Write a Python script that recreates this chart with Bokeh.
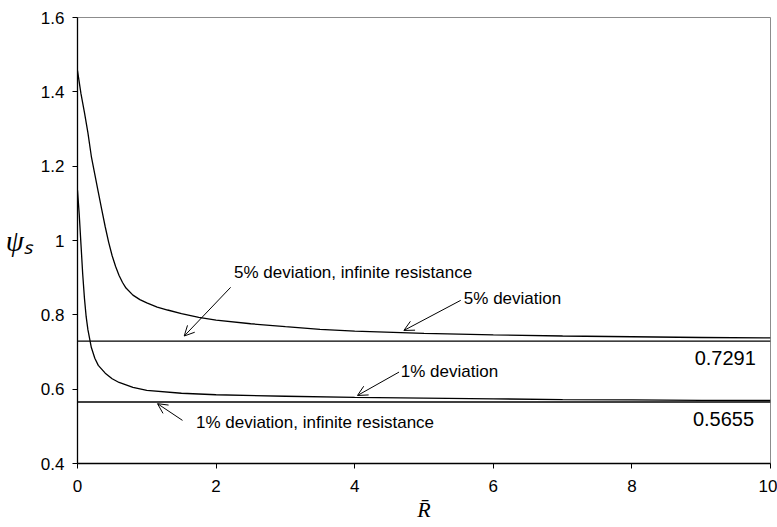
from bokeh.plotting import figure
from bokeh.models import Range1d, FixedTicker, Label, Arrow, OpenHead
from bokeh.embed import file_html
from bokeh.resources import INLINE

# ---- data ----
r5 = [0, 0.05, 0.1, 0.15, 0.2, 0.25, 0.3, 0.35, 0.4, 0.45, 0.5, 0.55, 0.6, 0.65, 0.7, 0.8, 0.9, 1.0, 1.15, 1.3, 1.5, 1.75, 2.0, 2.5, 3.0, 3.5, 4.0, 5.0, 6.0, 7.0, 8.0, 9.0, 10.0]
psi5 = [1.457, 1.395, 1.345, 1.29, 1.226, 1.178, 1.13, 1.083, 1.037, 0.995, 0.959, 0.93, 0.906, 0.887, 0.872, 0.853, 0.841, 0.832, 0.821, 0.813, 0.803, 0.793, 0.786, 0.776, 0.768, 0.761, 0.756, 0.75, 0.746, 0.743, 0.741, 0.739, 0.738]

r1 = [0, 0.025, 0.05, 0.075, 0.1, 0.125, 0.15, 0.2, 0.25, 0.3, 0.4, 0.5, 0.6, 0.8, 1.0, 1.5, 2.0, 3.0, 4.0, 5.0, 6.0, 7.0, 8.0, 9.0, 10.0]
psi1 = [1.135, 1.07, 0.99, 0.91, 0.845, 0.795, 0.76, 0.712, 0.683, 0.664, 0.643, 0.628, 0.618, 0.605, 0.597, 0.589, 0.585, 0.581, 0.578, 0.576, 0.574, 0.572, 0.571, 0.570, 0.5695]

r_inf = [0, 10]
psi5_inf = [0.7291, 0.7291]
psi1_inf = [0.5655, 0.5655]

x_ticks = [0, 2, 4, 6, 8, 10]
y_ticks = [0.4, 0.6, 0.8, 1.0, 1.2, 1.4, 1.6]
y_tick_labels = ["0.4", "0.6", "0.8", "1", "1.2", "1.4", "1.6"]

value_labels = ["0.7291", "0.5655"]

# ---- figure ----
p = figure(width=777, height=527, output_backend="svg", toolbar_location=None,
           x_range=Range1d(0, 10), y_range=Range1d(0.4, 1.6),
           min_border_left=77, min_border_right=7, min_border_top=17, min_border_bottom=64)
p.background_fill_color = "white"
p.border_fill_color = "white"
p.outline_line_color = "#8c8c8c"
p.outline_line_width = 1
p.xgrid.visible = False
p.ygrid.visible = False

for ax in (p.xaxis[0], p.yaxis[0]):
    ax.axis_line_color = "black"
    ax.axis_line_width = 1.3
    ax.major_tick_line_color = "black"
    ax.major_tick_in = 0
    ax.major_tick_out = 5
    ax.minor_tick_line_color = None
    ax.major_label_text_font = "Liberation Sans"
    ax.major_label_text_font_size = "17px"
    ax.major_label_text_color = "black"

p.xaxis.ticker = FixedTicker(ticks=x_ticks)
p.yaxis.ticker = FixedTicker(ticks=y_ticks)
p.yaxis.major_label_overrides = {t: l for t, l in zip(y_ticks, y_tick_labels)}
p.xaxis.major_label_standoff = 11
p.yaxis.major_label_standoff = 8

# axis titles
p.xaxis.axis_label = "R\u0304"
p.xaxis.axis_label_text_font = "Liberation Serif"
p.xaxis.axis_label_text_font_style = "italic"
p.xaxis.axis_label_text_font_size = "22px"
p.xaxis.axis_label_text_color = "black"
p.xaxis.axis_label_standoff = 2

p.yaxis.axis_label = "\u03c8\u209b"
p.yaxis.axis_label_orientation = "horizontal"
p.yaxis.axis_label_text_font = "Liberation Serif"
p.yaxis.axis_label_text_font_style = "italic"
p.yaxis.axis_label_text_font_size = "29px"
p.yaxis.axis_label_text_color = "black"
p.yaxis.axis_label_standoff = 5

p.line(r5, psi5, line_color="black", line_width=1.3)
p.line(r1, psi1, line_color="black", line_width=1.3)
p.line(r_inf, psi5_inf, line_color="black", line_width=1.3)
p.line(r_inf, psi1_inf, line_color="black", line_width=1.3)

# ---- annotations ----
ann_font = "Liberation Sans"
texts = [
    ("5% deviation, infinite resistance", 2.258, 0.915),
    ("5% deviation", 5.575, 0.844),
    ("1% deviation", 4.665, 0.648),
    ("1% deviation, infinite resistance", 1.709, 0.511),
]
for t, x, y in texts:
    p.add_layout(Label(x=x, y=y, text=t, text_font=ann_font, text_font_size="17px",
                       text_align="left", text_baseline="middle", text_color="black"))

p.add_layout(Label(x=9.788, y=0.683, text=value_labels[0], text_font=ann_font, text_font_size="20px",
                   text_align="right", text_baseline="middle", text_color="black"))
p.add_layout(Label(x=9.763, y=0.520, text=value_labels[1], text_font=ann_font, text_font_size="20px",
                   text_align="right", text_baseline="middle", text_color="black"))

arrows = [
    (2.21, 0.874, 1.54, 0.743),
    (5.53, 0.839, 4.71, 0.758),
    (4.64, 0.646, 4.04, 0.583),
    (1.515, 0.516, 1.154, 0.561),
]
for xs, ys, xe, ye in arrows:
    p.add_layout(Arrow(x_start=xs, y_start=ys, x_end=xe, y_end=ye, line_color="black", line_width=1,
                       end=OpenHead(size=10, line_color="black", line_width=1)))

open("out.html", "w").write(file_html(p, INLINE))
